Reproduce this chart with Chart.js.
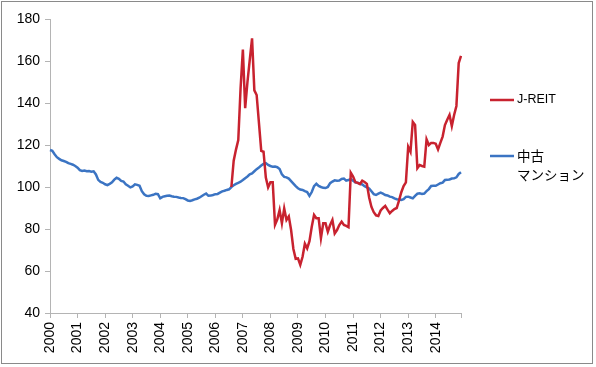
<!DOCTYPE html>
<html>
<head>
<meta charset="utf-8">
<script src="https://cdn.jsdelivr.net/npm/chart.js@4"></script>
<style>
  html, body { margin: 0; padding: 0; background: #fff; }
  #wrap { position: relative; width: 596px; height: 367px; }
</style>
</head>
<body>
<div id="wrap"><canvas id="chart" width="596" height="367"></canvas></div>
<script>
// monthly index, Jan 2000 - Dec 2014
const years = ['2000','2001','2002','2003','2004','2005','2006','2007','2008','2009','2010','2011','2012','2013','2014'];

// 中古マンション (used condo price index)
const condoVals = [
  117.6, 117.2, 115.6, 114.2, 113.4, 112.7, 112.4, 112.0, 111.4, 111.0, 110.6, 110.0,
  109.2, 108.0, 107.6, 107.8, 107.5, 107.6, 107.3, 107.5, 106.0, 103.4, 102.4, 102.0,
  101.3, 100.9, 101.5, 102.2, 103.5, 104.4, 103.9, 102.9, 102.6, 101.3, 100.6, 99.8,
  100.3, 101.3, 101.0, 100.6, 98.0, 96.5, 95.8, 95.7, 96.0, 96.3, 96.8, 96.6,
  94.6, 95.3, 95.6, 95.8, 95.9, 95.6, 95.4, 95.3, 95.0, 94.8, 94.7, 94.2,
  93.6, 93.4, 93.7, 94.1, 94.4, 94.9, 95.6, 96.3, 96.9, 95.8, 95.9, 96.2,
  96.6, 96.7, 97.3, 97.9, 98.2, 98.6, 98.9, 100.0, 100.8, 101.5, 102.0, 102.5,
  103.3, 104.2, 105.0, 106.0, 106.5, 107.5, 108.5, 109.3, 110.2, 111.0, 111.4, 110.5,
  110.0, 109.6, 109.7, 109.4, 108.6, 106.0, 104.8, 104.6, 104.0, 102.8, 101.6, 100.4,
  99.4, 98.8, 98.6, 98.0, 97.6, 95.8, 97.6, 100.4, 101.5, 100.5, 100.0, 99.6,
  99.5, 100.0, 101.8, 102.6, 103.2, 103.0, 103.1, 103.8, 104.0, 103.0, 103.3, 103.8,
  103.0, 102.2, 102.0, 101.6, 101.2, 100.4, 99.8, 99.3, 98.0, 96.6, 96.2, 96.8,
  97.3, 96.8, 96.2, 96.0, 95.4, 95.2, 94.6, 94.2, 94.0, 93.8, 94.2, 95.3,
  95.4, 95.0, 94.6, 95.8, 96.8, 97.0, 96.7, 96.9, 98.0, 99.0, 100.5, 100.6,
  100.6, 101.2, 101.8, 102.1, 103.3, 103.4, 103.6, 104.0, 104.1, 104.6, 106.2, 107.0
];

// J-REIT, starts Aug 2006 (month index 79)
const reitStart = 79;
const reitVals = [
  100.0,
  112.5, 117.8, 122.4, 147.0,
  165.5, 137.5, 150.0, 160.5, 170.8, 146.0, 143.8, 130.5, 117.2, 116.8, 104.5, 99.8,
  102.3, 102.3, 82.0, 84.6, 89.0, 82.7, 89.8, 84.3, 86.0, 79.5, 70.5, 65.8,
  66.0, 62.9, 66.8, 73.0, 70.8, 74.2, 81.1, 86.7, 85.1, 85.1, 75.6, 82.7,
  82.7, 78.7, 81.9, 84.3, 77.9, 79.5, 81.9, 83.5, 81.9, 81.5, 80.9, 106.8,
  105.0, 102.3, 102.0, 101.4, 103.0, 102.4, 101.5, 95.0, 90.5, 88.0, 86.5, 86.2,
  88.8, 90.0, 91.0, 89.2, 87.5, 88.6, 89.5, 90.0, 93.5, 97.5, 100.5, 102.2,
  119.2, 116.8, 131.0, 129.5, 109.0, 110.5, 110.0, 109.7, 122.7, 120.0, 121.0, 121.0,
  120.6, 117.9, 121.0, 124.0, 129.5, 132.0, 134.3, 129.0, 134.3, 138.6, 159.0, 162.4
];

const seriesNames = ['J-REIT', '中古\nマンション'];
const seriesColors = ['#c8222f', '#3b74c3'];

const yMin = 40, yMax = 180, yStep = 20;

const labels = [];
years.forEach(y => { for (let m = 1; m <= 12; m++) labels.push(y + '/' + m); });
const lastIdx = labels.length - 1;

const axisGray = '#b4b4b4';
const fontFamily = "'Liberation Sans', Arial, sans-serif";

// right side legend, second series wraps onto two lines
const sideLegend = {
  id: 'sideLegend',
  afterDraw(chart) {
    const ctx = chart.ctx;
    const rows = [100, 156];
    ctx.save();
    chart.data.datasets.forEach((ds, i) => {
      const y = rows[i];
      ctx.strokeStyle = ds.borderColor;
      ctx.lineWidth = 2.5;
      ctx.beginPath();
      ctx.moveTo(490, y);
      ctx.lineTo(514, y);
      ctx.stroke();
      ctx.fillStyle = '#000';
      ctx.textBaseline = 'middle';
      const lines = ds.label.split('\n');
      lines.forEach((t, k) => {
        ctx.font = i === 0 ? '12.5px ' + fontFamily : "13.5px 'Noto Sans CJK JP', sans-serif";
        ctx.fillText(t, 517, y + k * 19);
      });
    });
    ctx.restore();
  }
};

// outer frame of the chart area
const frame = {
  id: 'frame',
  beforeDraw(chart) {
    const ctx = chart.ctx;
    ctx.save();
    ctx.fillStyle = '#fff';
    ctx.fillRect(0, 0, chart.width, chart.height);
    ctx.strokeStyle = '#8a8a8a';
    ctx.lineWidth = 1;
    ctx.strokeRect(1.5, 1.5, 591, 362);
    ctx.restore();
  }
};

new Chart(document.getElementById('chart'), {
  type: 'line',
  data: {
    labels: labels,
    datasets: [
      {
        label: seriesNames[0],
        data: Array(reitStart).fill(null).concat(reitVals),
        borderColor: seriesColors[0],
        borderWidth: 2.5,
        pointRadius: 0,
        tension: 0,
        fill: false
      },
      {
        label: seriesNames[1],
        data: condoVals,
        borderColor: seriesColors[1],
        borderWidth: 2.5,
        pointRadius: 0,
        tension: 0,
        fill: false
      }
    ]
  },
  options: {
    responsive: false,
    animation: false,
    layout: { padding: { left: 0, top: 19, right: 135, bottom: 0 } },
    plugins: {
      legend: { display: false },
      tooltip: { enabled: false }
    },
    scales: {
      x: {
        type: 'category',
        offset: false,
        afterFit: s => { s.height = 54; },
        border: { color: axisGray, width: 1 },
        grid: {
          drawOnChartArea: false,
          drawTicks: true,
          tickLength: 5,
          color: axisGray,
          tickColor: c => (c.index % 12 === 0 || c.index === lastIdx) ? axisGray : 'rgba(0,0,0,0)'
        },
        ticks: {
          autoSkip: false,
          maxRotation: 90,
          minRotation: 90,
          padding: 4,
          color: '#000',
          font: { family: fontFamily, size: 14 },
          callback: (v, i) => i % 12 === 0 ? years[i / 12] : ''
        }
      },
      y: {
        min: yMin,
        max: yMax,
        afterFit: s => { s.width = 50; },
        border: { color: axisGray, width: 1 },
        grid: {
          drawOnChartArea: false,
          drawTicks: true,
          tickLength: 5,
          color: axisGray
        },
        ticks: {
          stepSize: yStep,
          padding: 5,
          color: '#000',
          font: { family: fontFamily, size: 14 }
        }
      }
    }
  },
  plugins: [frame, sideLegend]
});
</script>
</body>
</html>
